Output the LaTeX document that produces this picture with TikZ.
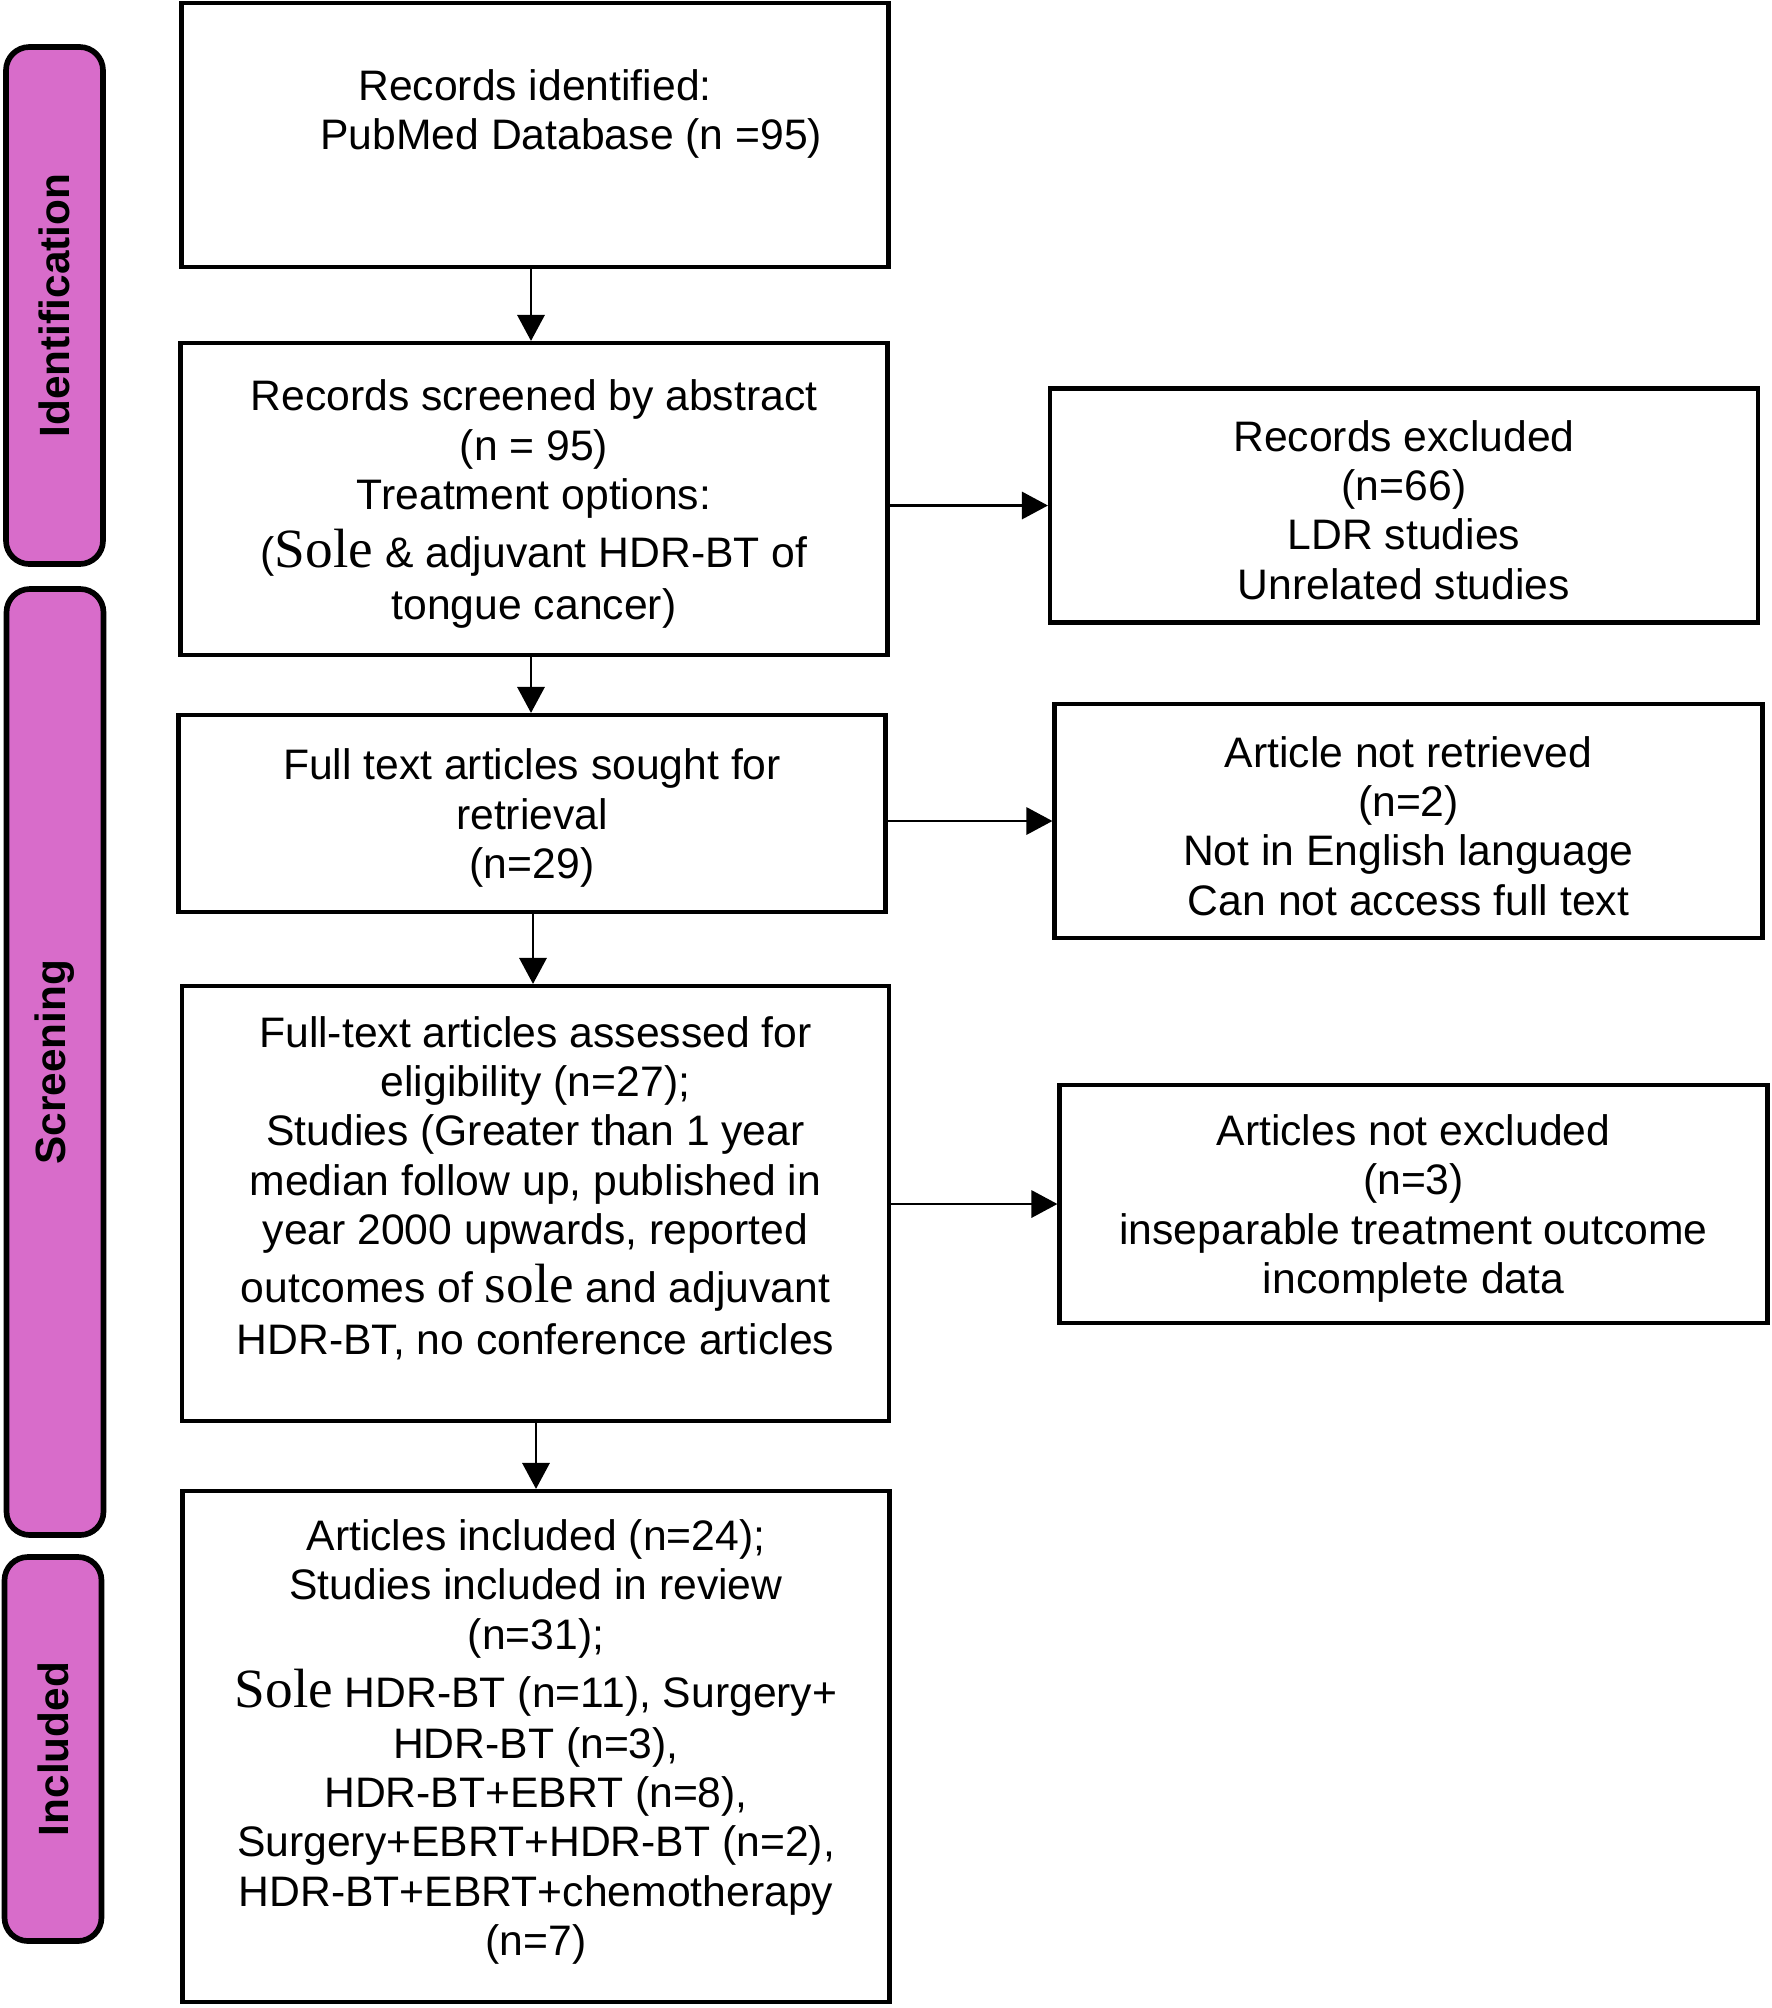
\documentclass[tikz,border=0pt]{standalone}
\usepackage{fontspec}
\setmainfont{Liberation Sans}
\newfontfamily\soleserif{Liberation Serif}
\usetikzlibrary{arrows.meta}
\definecolor{barfill}{RGB}{216,108,202}
\newcommand{\Sole}[1]{{\soleserif\fontsize{16.6}{14.7}\selectfont #1}}
\begin{document}
\begin{tikzpicture}[x=0.3pt,y=-0.3pt,
  box/.style={draw=black,line width=1.25pt,minimum width=707*0.3pt,inner sep=0pt},
  ebox/.style={draw=black,line width=1.25pt,minimum width=708*0.3pt,inner sep=0pt},
  txt/.style={align=center,inner sep=0pt,font=\fontsize{12.8}{14.8}\selectfont},
  bar/.style={draw=black,fill=barfill,line width=1.7pt,rounded corners=7pt,minimum width=97*0.3pt,inner sep=0pt},
  barlabel/.style={rotate=90,font=\fontsize{12.7}{15}\selectfont\bfseries,inner sep=0pt},
  arr/.style={line width=0.65pt,-{Triangle[length=7.8pt,width=8.2pt]}}]
\useasboundingbox (0,0) rectangle (1772,2008);
% side bars
\node[bar,minimum height=517*0.3pt] (bid) at (54.5,305.5) {};
\node[barlabel] (lid) at (bid.center) {Identification};
\node[bar,minimum height=946*0.3pt] (bsc) at (55,1062) {};
\node[barlabel] (lsc) at (bsc.center) {Screening};
\node[bar,minimum height=384*0.3pt] (bin) at (53,1749) {};
\node[barlabel] (lin) at (bin.center) {Included};
% main column
\node[box,minimum height=264*0.3pt] (b1) at (535,135) {};
\node[txt] (t1) at (535,114) {Records identified:\\ \hspace*{1.7em}PubMed Database (n =95)};
\node[box,minimum height=312*0.3pt] (b2) at (534,499) {};
\node[txt] (t2) at (534,504) {Records screened by abstract\\ (n = 95)\\ Treatment options:\\[2.7pt] (\Sole{Sole} \& adjuvant HDR-BT of\\[0.6pt] tongue cancer)};
\node[box,minimum height=197*0.3pt] (b3) at (532,813.5) {};
\node[txt] (t3) at (532,818) {Full text articles sought for\\ retrieval\\ (n=29)};
\node[box,minimum height=435*0.3pt] (b4) at (535.5,1203.5) {};
\node[txt] (t4) at (535.5,1188) {Full-text articles assessed for\\ eligibility (n=27);\\ Studies (Greater than 1 year\\ median follow up, published in\\ year 2000 upwards, reported\\[2.7pt] outcomes of \Sole{sole} and adjuvant\\[0.6pt] HDR-BT, no conference articles};
\node[box,minimum height=511*0.3pt] (b5) at (536,1746.5) {};
\node[txt] (t5) at (536,1742) {Articles included (n=24);\\ Studies included in review\\ (n=31);\\[2.7pt] \Sole{Sole} HDR-BT (n=11), Surgery+\\[0.4pt] HDR-BT (n=3),\\ HDR-BT+EBRT (n=8),\\ Surgery+EBRT+HDR-BT (n=2),\\ HDR-BT+EBRT+chemotherapy\\ (n=7)};
% excluded column
\node[ebox,minimum height=234*0.3pt] (e1) at (1404,505.5) {};
\node[txt] (s1) at (1404,510) {Records excluded\\ (n=66)\\ LDR studies\\ Unrelated studies};
\node[ebox,minimum height=234*0.3pt] (e2) at (1408.5,821) {};
\node[txt] (s2) at (1408.5,826) {Article not retrieved\\ (n=2)\\ Not in English language\\ Can not access full text};
\node[ebox,minimum height=238*0.3pt] (e3) at (1413.5,1204) {};
\node[txt] (s3) at (1413.5,1208.5) {Articles not excluded\\ (n=3)\\ inseparable treatment outcome\\ incomplete data};
% connectors
\draw[arr] (b1.south -| 531,0) -- (b2.north -| 531,0);
\draw[arr] (b2.south -| 531,0) -- (b3.north -| 531,0);
\draw[arr] (b3.south -| 533,0) -- (b4.north -| 533,0);
\draw[arr] (b4.south -| 536,0) -- (b5.north -| 536,0);
\draw[arr] (e1.west -| b2.east) -- (e1.west);
\draw[arr] (b3.east |- e2.west) -- (e2.west);
\draw[arr] (b4.east |- e3.west) -- (e3.west);
\end{tikzpicture}
\end{document}
